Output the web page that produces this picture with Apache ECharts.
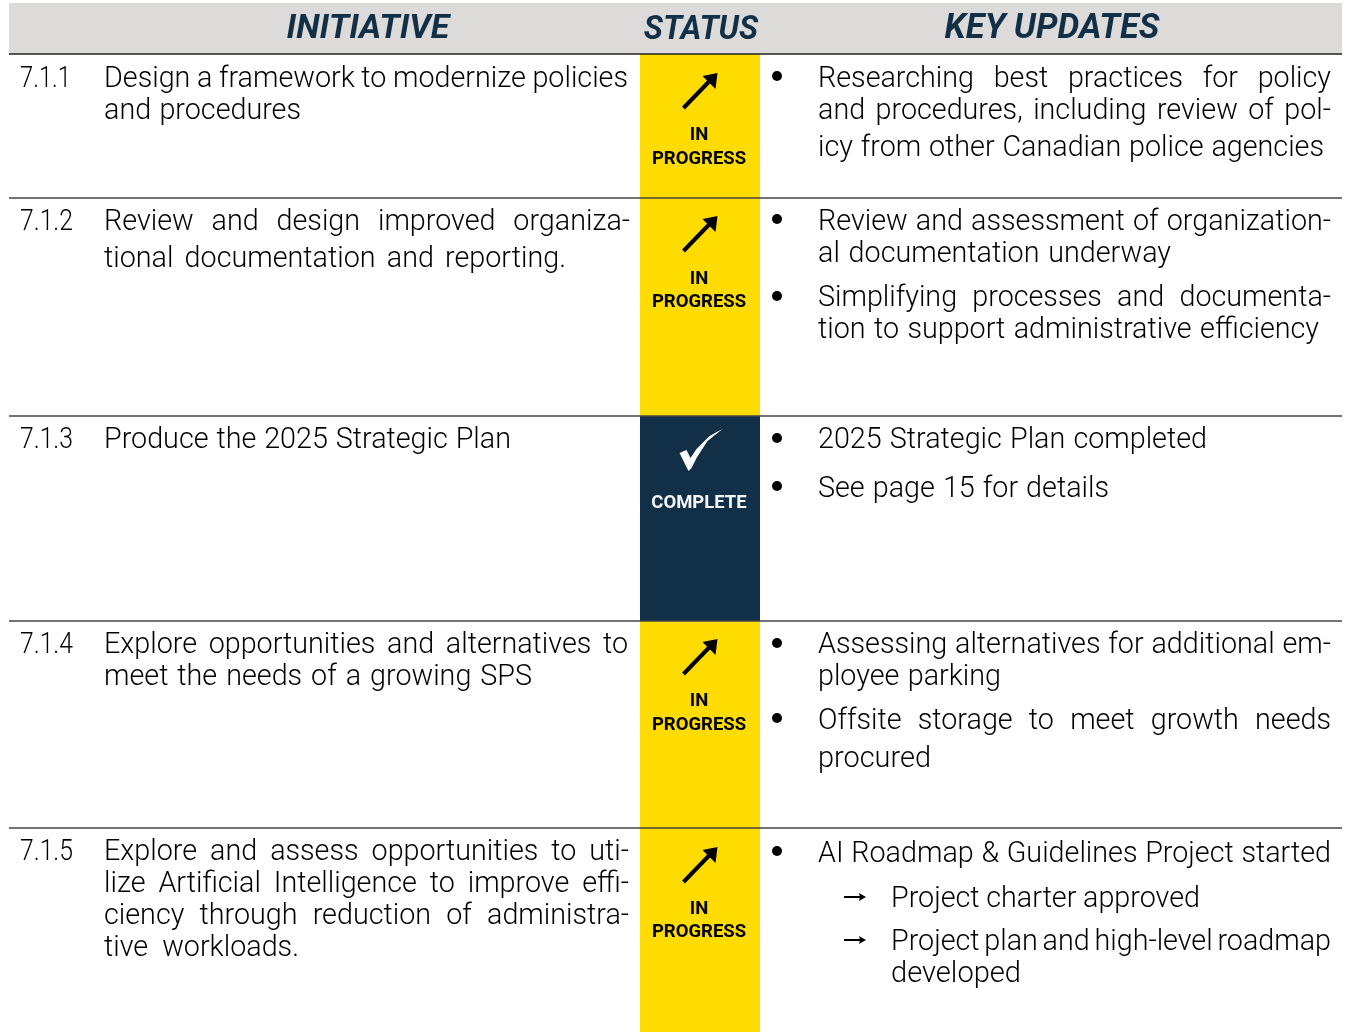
<!DOCTYPE html>
<html>
<head>
<meta charset="utf-8">
<title>Initiatives</title>
<script src="https://cdn.jsdelivr.net/npm/echarts@6/dist/echarts.min.js"></script>
<style>
html, body { margin: 0; padding: 0; background: #fff; }
#main { width: 1346px; height: 1032px; }
</style>
</head>
<body>
<div id="main"></div>
<script>
// table content
const headers = ['INITIATIVE', 'STATUS', 'KEY UPDATES'];
const rowIds = ['7.1.1', '7.1.2', '7.1.3', '7.1.4', '7.1.5'];
const initiatives = [
    ['Design a framework to modernize policies', 'and procedures'],
    ['Review and design improved organiza-', 'tional documentation and reporting.'],
    ['Produce the 2025 Strategic Plan'],
    ['Explore opportunities and alternatives to', 'meet the needs of a growing SPS'],
    ['Explore and assess opportunities to uti-', 'lize Artificial Intelligence to improve effi-', 'ciency through reduction of administra-', 'tive workloads.']
];
const statuses = [['IN', 'PROGRESS'], ['IN', 'PROGRESS'], ['COMPLETE'], ['IN', 'PROGRESS'], ['IN', 'PROGRESS']];
const updates = [
    ['Researching best practices for policy', 'and procedures, including review of pol-', 'icy from other Canadian police agencies'],
    ['Review and assessment of organization-', 'al documentation underway', 'Simplifying processes and documenta-', 'tion to support administrative efficiency'],
    ['2025 Strategic Plan completed', 'See page 15 for details'],
    ['Assessing alternatives for additional em-', 'ployee parking', 'Offsite storage to meet growth needs', 'procured'],
    ['AI Roadmap & Guidelines Project started', 'Project charter approved', 'Project plan and high-level roadmap', 'developed']
];

// layout, in the pixel scale of the two hidden axes
const rowEdges = [54, 198, 416, 621, 828, 1032];
const headerCentres = [368, 701, 1052];
const headerSizes = [34, 34, 34.5];
const headerScale = [1, 0.94, 1];
const headerY = [29, 30, 29];
const initiativeY = [[80, 112], [223, 260], [441], [646, 678], [853, 885, 917, 949]];
const initiativeRight = [[628, 301], [630, 566], [511], [628, 532], [629, 629, 629, 299]];
const updateY = [[80, 112, 149], [223, 255, 299, 331], [441, 490], [646, 678, 722, 760], [855, 900, 943, 975]];
const updateRight = [[1331, 1331, 1324], [1331, 1171, 1331, 1319], [1207, 1109], [1331, 1001, 1331, 931], [1331, 1200, 1331, 1021]];
const updateLeft = [[818, 818, 818], [818, 818, 818, 818], [818, 818], [818, 818, 818, 818], [818, 891, 891, 891]];
const bulletY = [[76], [219, 296], [438, 486], [643, 718], [851]];
const subArrowY = [897, 940];
const statusY = [[135, 159], [279, 302], [503], [701, 725], [909, 932]];
const symbolTop = [73, 216, 428, 639, 847];
const rowIdRight = [71, 73, 73, 73, 73];

const NAVY = '#122f48';
const YELLOW = '#ffdc00';
const FONT = 'Roboto, "Noto Sans", sans-serif';
const BODY_SIZE = 29;
const BODY_SQUEEZE = 0.99;

var measure = document.createElement('canvas').getContext('2d');
function textWidth(str, size, weight) {
    measure.font = weight + ' ' + size + 'px Roboto';
    return measure.measureText(str).width;
}

// [left, centre y, right, text]
const textLines = [];
rowIds.forEach(function (id, r) {
    textLines.push([20, initiativeY[r][0], rowIdRight[r], id]);
    initiatives[r].forEach(function (line, i) {
        textLines.push([104, initiativeY[r][i], initiativeRight[r][i], line]);
    });
    updates[r].forEach(function (line, i) {
        textLines.push([updateLeft[r][i], updateY[r][i], updateRight[r][i], line]);
    });
});

const statusLines = [];
statuses.forEach(function (lines, r) {
    lines.forEach(function (line, i) {
        statusLines.push([699, statusY[r][i], line, lines.length === 1 ? '#f4f6f8' : '#000']);
    });
});

const bullets = [];
bulletY.forEach(function (ys) {
    ys.forEach(function (y) { bullets.push([777, y]); });
});

const statusCells = rowIds.map(function (id, r) {
    return [640, rowEdges[r], 760, rowEdges[r + 1], statuses[r].length === 1 ? NAVY : YELLOW];
});

const symbols = rowIds.map(function (id, r) {
    return [699.5, symbolTop[r], statuses[r].length === 1 ? 'check' : 'arrow'];
});

// one line of text, words pushed apart so it ends at the right edge
function renderTextLine(params, api) {
    var left = api.coord([api.value(0), api.value(1)]);
    var right = api.coord([api.value(2), api.value(1)])[0];
    var str = textLines[params.dataIndex][3];
    var words = str.split(' ');
    var total = right - left[0];
    var children = [];
    var wordW = words.map(function (w) { return textWidth(w, BODY_SIZE, 300) * BODY_SQUEEZE; });
    var sum = wordW.reduce(function (a, b) { return a + b; }, 0);
    var scale = BODY_SQUEEZE;
    if (words.length === 1) {
        scale = total / textWidth(str, BODY_SIZE, 300);
    }
    var gap = words.length > 1 ? (total - sum) / (words.length - 1) : 0;
    var x = left[0];
    words.forEach(function (w, i) {
        children.push({
            type: 'text',
            x: x,
            y: left[1],
            scaleX: scale,
            style: {
                text: w,
                fill: '#000',
                fontFamily: FONT,
                fontSize: BODY_SIZE,
                fontWeight: 300,
                align: 'left',
                verticalAlign: 'middle'
            }
        });
        x += wordW[i] + gap;
    });
    return { type: 'group', children: children };
}

function renderCell(params, api) {
    var a = api.coord([api.value(0), api.value(1)]);
    var b = api.coord([api.value(2), api.value(3)]);
    return {
        type: 'rect',
        shape: { x: a[0], y: a[1], width: b[0] - a[0], height: b[1] - a[1] },
        style: { fill: statusCells[params.dataIndex][4] }
    };
}

function renderSymbol(params, api) {
    var p = api.coord([api.value(0), api.value(1)]);
    if (symbols[params.dataIndex][2] === 'check') {
        return {
            type: 'polygon',
            x: p[0],
            y: p[1],
            shape: { points: [[-20, 25], [-13, 22], [-9, 30], [-3, 21], [10, 8], [23, 1], [8, 13], [-3, 30], [-8, 40], [-11, 43]] },
            style: { fill: '#fff' }
        };
    }
    return {
        type: 'group',
        x: p[0],
        y: p[1],
        children: [
            { type: 'line', shape: { x1: -16, y1: 35, x2: 13, y2: 5 }, style: { stroke: '#000', lineWidth: 4 } },
            { type: 'polygon', shape: { points: [[18, 0], [16, 16], [3, 3]] }, style: { fill: '#000' } }
        ]
    };
}

function renderSubArrow(params, api) {
    var p = api.coord([api.value(0), api.value(1)]);
    return {
        type: 'group',
        x: p[0],
        y: p[1],
        children: [
            { type: 'line', shape: { x1: 0, y1: 0, x2: 18, y2: 0 }, style: { stroke: '#000', lineWidth: 2 } },
            { type: 'polygon', shape: { points: [[22, 0], [15, -4], [16, 0], [15, 4]] }, style: { fill: '#000' } }
        ]
    };
}

function renderRule(params, api) {
    var y = api.coord([0, api.value(0)])[1];
    var l = api.coord([9, 0])[0];
    var r = api.coord([1342, 0])[0];
    return {
        type: 'line',
        shape: { x1: l, y1: y, x2: r, y2: y },
        style: { stroke: params.dataIndex === 0 ? '#222' : '#444', lineWidth: 1.3 }
    };
}

var chartDom = document.getElementById('main');
var myChart = echarts.init(chartDom);
var option = {
    animation: false,
    grid: { left: 0, right: 0, top: 0, bottom: 0 },
    xAxis: { type: 'value', min: 0, max: 1346, show: false },
    yAxis: { type: 'value', min: 0, max: 1032, inverse: true, show: false },
    series: [
        {
            type: 'custom',
            silent: true,
            clip: false,
            data: [[9, 3, 1342, 54]],
            renderItem: function (params, api) {
                var a = api.coord([api.value(0), api.value(1)]);
                var b = api.coord([api.value(2), api.value(3)]);
                return {
                    type: 'rect',
                    shape: { x: a[0], y: a[1], width: b[0] - a[0], height: b[1] - a[1] },
                    style: { fill: '#dcdbd9' }
                };
            }
        },
        { type: 'custom', silent: true, clip: false, data: statusCells.map(function (c) { return c.slice(0, 4); }), renderItem: renderCell },
        { type: 'custom', silent: true, clip: false, data: rowEdges.slice(0, 5).map(function (y) { return [y]; }), renderItem: renderRule },
        {
            type: 'custom',
            silent: true,
            clip: false,
            data: headerCentres.map(function (x, i) { return [x, headerY[i]]; }),
            renderItem: function (params, api) {
                var p = api.coord([api.value(0), api.value(1)]);
                return {
                    type: 'text',
                    x: p[0],
                    y: p[1],
                    scaleX: headerScale[params.dataIndex],
                    style: {
                        text: headers[params.dataIndex],
                        fill: NAVY,
                        fontFamily: FONT,
                        fontSize: headerSizes[params.dataIndex],
                        fontWeight: 'bold',
                        fontStyle: 'italic',
                        align: 'center',
                        verticalAlign: 'middle'
                    }
                };
            }
        },
        { type: 'custom', silent: true, clip: false, data: textLines.map(function (t) { return t.slice(0, 3); }), renderItem: renderTextLine },
        {
            type: 'custom',
            silent: true,
            clip: false,
            data: statusLines.map(function (t) { return t.slice(0, 2); }),
            renderItem: function (params, api) {
                var p = api.coord([api.value(0), api.value(1)]);
                return {
                    type: 'text',
                    x: p[0],
                    y: p[1],
                    style: {
                        text: statusLines[params.dataIndex][2],
                        fill: statusLines[params.dataIndex][3],
                        fontFamily: FONT,
                        fontSize: 18.5,
                        fontWeight: 'bold',
                        align: 'center',
                        verticalAlign: 'middle'
                    }
                };
            }
        },
        { type: 'custom', silent: true, clip: false, data: symbols.map(function (s) { return s.slice(0, 2); }), renderItem: renderSymbol },
        {
            type: 'scatter',
            silent: true,
            symbol: 'circle',
            symbolSize: 10,
            itemStyle: { color: '#000', opacity: 1 },
            data: bullets
        },
        { type: 'custom', silent: true, clip: false, data: subArrowY.map(function (y) { return [844, y]; }), renderItem: renderSubArrow }
    ]
};
myChart.setOption(option);
</script>
</body>
</html>
